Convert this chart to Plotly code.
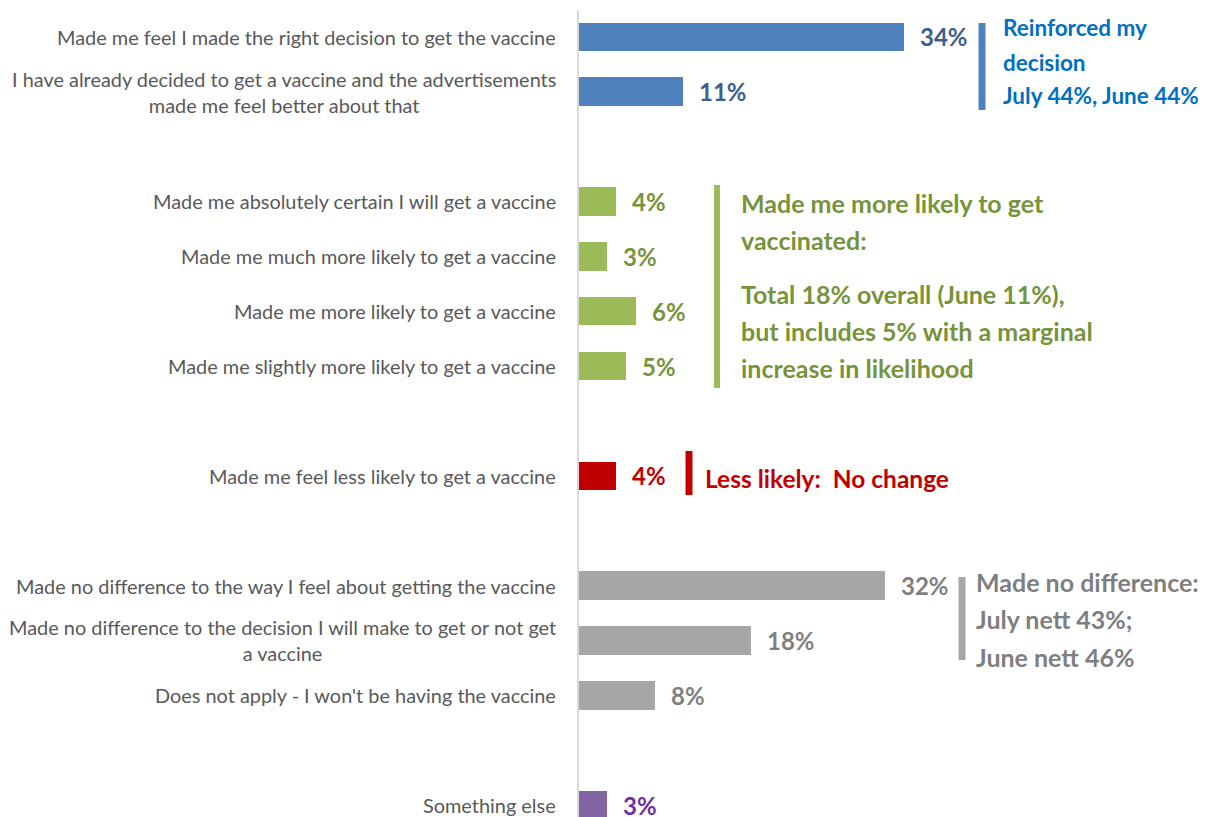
import plotly.graph_objects as go

# Survey responses, top to bottom; empty strings are spacer rows between groups
categories = [
    "Made me feel I made the right decision to get the vaccine",
    "I have already decided to get a vaccine and the advertisements<br>made me feel better about that",
    "",
    "Made me absolutely certain I will get a vaccine",
    "Made me much more likely to get a vaccine",
    "Made me more likely to get a vaccine",
    "Made me slightly more likely to get a vaccine",
    "",
    "Made me feel less likely to get a vaccine",
    "",
    "Made no difference to the way I feel about getting the vaccine",
    "Made no difference to the decision I will make to get or not get<br>a vaccine",
    "Does not apply - I won't be having the vaccine",
    "",
    "Something else",
]
values = [34, 11, None, 4, 3, 6, 5, None, 4, None, 32, 18, 8, None, 3]
groups = ["reinforced", "reinforced", None, "more", "more", "more", "more", None,
          "less", None, "none", "none", "none", None, "other"]

bar_colors = {"reinforced": "#4F81BD", "more": "#9BBB59", "less": "#C00000",
              "none": "#A6A6A6", "other": "#8064A2"}
label_colors = {"reinforced": "#3E5F8E", "more": "#77933C", "less": "#C00000",
                "none": "#7F7F7F", "other": "#7030A0"}

FONT = "Lato"
W, H = 1214, 817
L, T = 578, 10            # plot area origin in pixels
PW, PH = W - L, H - T     # plot area size


def px(x):
    return (x - L) / PW


def py(y):
    return 1 - (y - T) / PH


rows = [i for i, v in enumerate(values) if v is not None]
fig = go.Figure()
fig.add_trace(go.Bar(
    x=[values[i] for i in rows],
    y=rows,
    orientation="h",
    width=0.52,
    marker=dict(color=[bar_colors[groups[i]] for i in rows], line=dict(width=0)),
    hoverinfo="skip",
))

annotations = []
# category labels, right aligned against the axis, multi-line centred
for i, name in enumerate(categories):
    if not name:
        continue
    annotations.append(dict(
        x=0, y=i, xref="x", yref="y", text=name, showarrow=False,
        xanchor="right", yanchor="middle", align="center", xshift=-20,
        font=dict(family=FONT, size=19.9, color="#595959"),
    ))
# value labels
for i in rows:
    annotations.append(dict(
        x=values[i], y=i, xref="x", yref="y", text=f"<b>{values[i]}%</b>",
        showarrow=False, xanchor="left", yanchor="middle", xshift=14,
        font=dict(family=FONT, size=24, color=label_colors[groups[i]]),
    ))

# group commentary, one line at a time: (x, y, text)
notes = [
    ("#0070C0", 22.5, [(1001, 28, "Reinforced my"), (1001, 62, "decision"),
                       (1001, 96, "July 44%, June 44%")]),
    ("#77933C", 25, [(739, 203, "Made me more likely to get"), (739, 240, "vaccinated:"),
                     (739, 294, "Total 18% overall (June 11%),"),
                     (739, 331, "but includes 5% with a marginal"),
                     (739, 368, "increase in likelihood")]),
    ("#C00000", 24.5, [(703, 478, "Less likely:  No change")]),
    ("#7F7F7F", 25, [(974, 582, "Made no difference:"), (974, 619, "July nett 43%;"),
                     (974, 657, "June nett 46%")]),
]
for color, size, lines in notes:
    for x, y, text in lines:
        annotations.append(dict(
            x=px(x), y=py(y), xref="paper", yref="paper", text=f"<b>{text}</b>",
            showarrow=False, xanchor="left", yanchor="middle", align="left",
            font=dict(family=FONT, size=size, color=color),
        ))

# bracket bars beside each group
brackets = [(982, 23, 110, "#4F81BD", 7), (717, 185, 388, "#9BBB59", 6),
            (689, 451, 495, "#C00000", 7), (962, 577, 660, "#A6A6A6", 7)]
shapes = []
for bx, y0, y1, col, w in brackets:
    shapes.append(dict(type="line", xref="paper", yref="paper",
                       x0=px(bx), x1=px(bx), y0=py(y0), y1=py(y1),
                       line=dict(color=col, width=w)))
shapes.append(dict(type="line", xref="paper", yref="paper", x0=0, x1=0, y0=0, y1=1,
                   line=dict(color="#D9D9D9", width=2)))

fig.update_layout(
    width=W, height=H,
    margin=dict(l=L, r=0, t=T, b=0),
    plot_bgcolor="white", paper_bgcolor="white",
    showlegend=False,
    bargap=0,
    xaxis=dict(range=[0, PW / 9.59], visible=False, fixedrange=True),
    yaxis=dict(range=[14.218, -0.49], showticklabels=False, showgrid=False,
               zeroline=False, showline=False, fixedrange=True),
    annotations=annotations,
    shapes=shapes,
)

fig.write_html("out.html", config={"displayModeBar": False})
